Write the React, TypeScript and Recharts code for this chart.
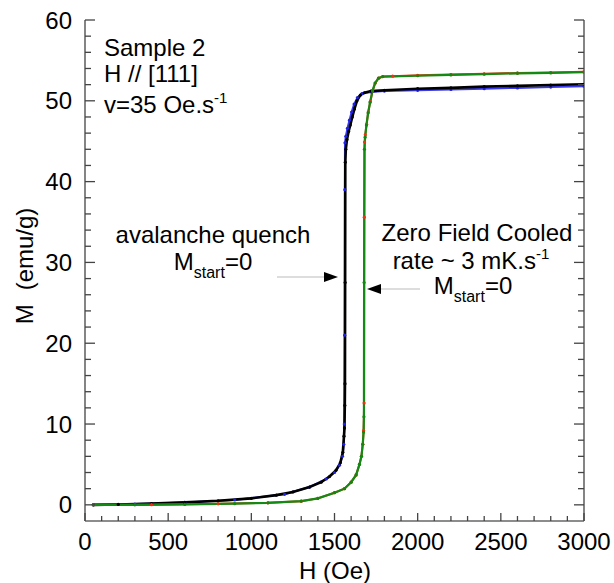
import React from 'react';
import { LineChart, Line, XAxis, YAxis } from 'recharts';

// avalanche quench, blue points
const blueH = [50, 300, 600, 900, 1200, 1350, 1450, 1500, 1530, 1548, 1556, 1559, 1561, 1562, 1563, 1568, 1578, 1590, 1603, 1618, 1638, 1665, 1720, 1800, 2000, 2200, 2400, 2600, 2800, 3000];
const blueM = [0, 0.1, 0.3, 0.6, 1.3, 2.2, 3.2, 4.0, 4.9, 6.0, 7.5, 10, 21, 39, 44.8, 45.6, 46.6, 47.6, 48.6, 49.6, 50.4, 50.9, 51.1, 51.2, 51.3, 51.4, 51.5, 51.6, 51.7, 51.8];

// avalanche quench, black points
const blackH = [50, 200, 400, 600, 800, 1000, 1150, 1250, 1350, 1420, 1470, 1510, 1535, 1550, 1557, 1560, 1562, 1563, 1564, 1565, 1568, 1575, 1585, 1595, 1607, 1620, 1635, 1655, 1680, 1720, 1800, 2000, 2200, 2400, 2600, 2800, 3000];
const blackM = [0, 0.05, 0.15, 0.3, 0.5, 0.8, 1.2, 1.6, 2.2, 2.8, 3.5, 4.3, 5.2, 6.5, 8.5, 9.5, 12.3, 15, 27.5, 42.4, 44, 45.2, 46.2, 47.0, 48.0, 49.0, 50.0, 50.7, 51.0, 51.2, 51.3, 51.5, 51.6, 51.75, 51.85, 51.95, 52.05];

// zero field cooled, red points
const redH = [50, 400, 800, 1100, 1300, 1400, 1500, 1560, 1600, 1630, 1650, 1662, 1670, 1675, 1678, 1679, 1681, 1685, 1693, 1703, 1715, 1729, 1745, 1765, 1790, 1850, 2000, 2200, 2400, 2600, 2800, 3000];
const redM = [0, 0.02, 0.12, 0.25, 0.45, 0.8, 1.5, 2.0, 2.8, 3.7, 5.0, 6.0, 7.5, 9.2, 12.6, 35.6, 44.9, 45.8, 47.1, 48.6, 49.9, 51.2, 52.2, 52.8, 53.0, 53.05, 53.15, 53.25, 53.35, 53.45, 53.5, 53.6];

// zero field cooled, green points
const greenH = [50, 300, 600, 900, 1100, 1300, 1400, 1500, 1560, 1600, 1630, 1650, 1662, 1670, 1675, 1677, 1678, 1680, 1684, 1692, 1702, 1714, 1728, 1744, 1765, 1790, 2000, 2200, 2400, 2600, 2800, 3000];
const greenM = [0, 0, 0.05, 0.15, 0.25, 0.45, 0.8, 1.5, 2.0, 2.8, 3.7, 5.0, 6.0, 7.5, 9.0, 10.9, 27.5, 44, 45.5, 47, 48.5, 49.8, 51.2, 52.2, 52.8, 53.0, 53.1, 53.2, 53.3, 53.4, 53.45, 53.55];

const xTicks = Array.from({ length: 31 }, (_, i) => i * 100);
const yTicks = Array.from({ length: 31 }, (_, i) => i * 2);

const toPoints = (hs: number[], ms: number[]) => hs.map((h, i) => ({ h, m: ms[i] }));

const font = 'Liberation Sans, Arial, Helvetica, sans-serif';
const frame = '#666666';
const tickColor = '#444444';

const BottomTick = (props: any) => {
  const { x, y, payload } = props;
  const major = payload.value % 500 === 0;
  return (
    <g>
      <line x1={x} y1={y} x2={x} y2={y - (major ? 8 : 5)} stroke={tickColor} strokeWidth={1.3} />
      {major && (
        <text x={x} y={y + 29} textAnchor="middle" fontSize={24} fontFamily={font} fill="#000">
          {payload.value}
        </text>
      )}
    </g>
  );
};

const TopTick = (props: any) => {
  const { x, y, payload } = props;
  const major = payload.value % 500 === 0;
  return <line x1={x} y1={y} x2={x} y2={y + (major ? 8 : 5)} stroke={tickColor} strokeWidth={1.3} />;
};

const LeftTick = (props: any) => {
  const { x, y, payload } = props;
  const major = payload.value % 10 === 0;
  return (
    <g>
      <line x1={x} y1={y} x2={x + (major ? 10 : 6)} y2={y} stroke={tickColor} strokeWidth={1.3} />
      {major && (
        <text x={x - 13} y={y + 8.5} textAnchor="end" fontSize={24} fontFamily={font} fill="#000">
          {payload.value}
        </text>
      )}
    </g>
  );
};

const RightTick = (props: any) => {
  const { x, y, payload } = props;
  const major = payload.value % 10 === 0;
  return <line x1={x} y1={y} x2={x - (major ? 10 : 6)} y2={y} stroke={tickColor} strokeWidth={1.3} />;
};

const Arrow = ({ x1, x2, y }: { x1: number; x2: number; y: number }) => {
  const dir = x2 > x1 ? 1 : -1;
  return (
    <g>
      <line x1={x1} y1={y} x2={x2 - dir * 12} y2={y} stroke="#bbbbbb" strokeWidth={1} />
      <polygon points={`${x2},${y} ${x2 - dir * 14},${y - 5} ${x2 - dir * 14},${y + 5}`} fill="#000" />
    </g>
  );
};

export default function App() {
  const dot = (c: string) => ({ r: 1.6, fill: c, stroke: 'none' });
  return (
    <div style={{ position: 'absolute', left: 0, top: 0, width: 614, height: 583, background: '#fff' }}>
      <LineChart width={614} height={583} margin={{ top: 20, right: 0, bottom: 0, left: 0 }}>
        <XAxis xAxisId="b" type="number" dataKey="h" domain={[0, 3000]} ticks={xTicks} interval={0} height={62}
          tickSize={0} tickMargin={0} tick={<BottomTick />} axisLine={{ stroke: frame, strokeWidth: 1.6 }} allowDataOverflow />
        <XAxis xAxisId="t" orientation="top" type="number" dataKey="h" domain={[0, 3000]} ticks={xTicks} interval={0} height={0}
          tickSize={0} tickMargin={0} tick={<TopTick />} axisLine={{ stroke: frame, strokeWidth: 1.6 }} allowDataOverflow />
        <YAxis yAxisId="l" type="number" domain={[-2, 60]} ticks={yTicks} interval={0} width={85}
          tickSize={0} tickMargin={0} tick={<LeftTick />} axisLine={{ stroke: frame, strokeWidth: 1.6 }} allowDataOverflow />
        <YAxis yAxisId="r" orientation="right" type="number" domain={[-2, 60]} ticks={yTicks} interval={0} width={30}
          tickSize={0} tickMargin={0} tick={<RightTick />} axisLine={{ stroke: frame, strokeWidth: 1.6 }} allowDataOverflow />

        <Line xAxisId="b" yAxisId="l" data={toPoints(blueH, blueM)} dataKey="m" type="linear" stroke="#3a3af0" strokeWidth={2}
          dot={dot('#2020e0')} isAnimationActive={false} />
        <Line xAxisId="b" yAxisId="l" data={toPoints(blackH, blackM)} dataKey="m" type="linear" stroke="#000" strokeWidth={2.6}
          dot={dot('#000')} isAnimationActive={false} />
        <Line xAxisId="b" yAxisId="l" data={toPoints(redH, redM)} dataKey="m" type="linear" stroke="#e0401a" strokeWidth={2}
          dot={dot('#f03010')} isAnimationActive={false} />
        <Line xAxisId="b" yAxisId="l" data={toPoints(greenH, greenM)} dataKey="m" type="linear" stroke="#138a13" strokeWidth={2.2}
          dot={dot('#108810')} isAnimationActive={false} />
      </LineChart>

      <svg width={614} height={583} style={{ position: 'absolute', left: 0, top: 0, pointerEvents: 'none' }} fontFamily={font} fill="#000">
        <text x={104} y={56} fontSize={24}>Sample 2</text>
        <text x={104} y={82} fontSize={24}>H // [111]</text>
        <text x={104} y={113} fontSize={24}>
          v=35 Oe.s<tspan fontSize={15} dy={-10}>-1</tspan>
        </text>

        <text x={213} y={243} fontSize={24} textAnchor="middle">avalanche quench</text>
        <text x={213} y={270} fontSize={24} textAnchor="middle">
          M<tspan fontSize={16} dy={8}>start</tspan><tspan dy={-8}>=0</tspan>
        </text>
        <Arrow x1={277} x2={338} y={277} />

        <text x={477} y={241} fontSize={24} textAnchor="middle">Zero Field Cooled</text>
        <text x={471} y={269} fontSize={24} textAnchor="middle">
          rate ~ 3 mK.s<tspan fontSize={15} dy={-10}>-1</tspan>
        </text>
        <text x={473} y={294} fontSize={24} textAnchor="middle">
          M<tspan fontSize={16} dy={8}>start</tspan><tspan dy={-8}>=0</tspan>
        </text>
        <Arrow x1={420} x2={367} y={289} />

        <text x={335} y={579} fontSize={24} textAnchor="middle">H (Oe)</text>
        <text transform="translate(33,266) rotate(-90)" fontSize={24} textAnchor="middle">
          M<tspan dx={14}>(emu/g)</tspan>
        </text>
      </svg>
    </div>
  );
}
